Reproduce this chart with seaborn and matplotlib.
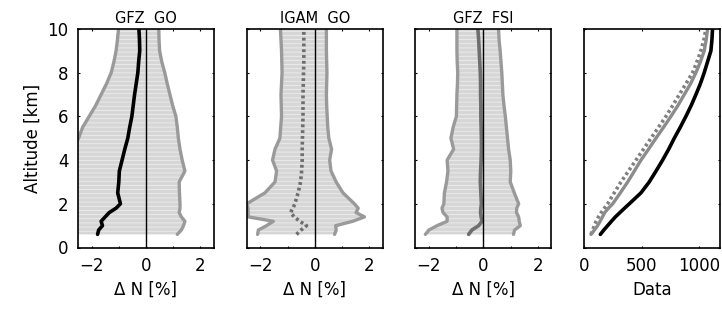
import numpy as np
import pandas as pd
import seaborn as sns
import matplotlib.pyplot as plt

# altitude levels [km]
alt = [0.6, 0.8, 1.0, 1.2, 1.4, 1.6, 1.8, 2.0, 2.5, 3.0, 3.5, 4.0,
       4.5, 5.0, 5.5, 6.0, 6.5, 7.0, 7.5, 8.0, 8.5, 9.0, 9.5, 10.0]

# GFZ GO
gfz_go_mean = [-1.78, -1.74, -1.60, -1.65, -1.50, -1.35, -1.10, -0.94, -1.04, -1.00, -0.98, -0.88,
               -0.78, -0.67, -0.60, -0.52, -0.47, -0.42, -0.36, -0.30, -0.27, -0.23, -0.24, -0.26]
gfz_go_lo = [-2.7, -2.7, -2.7, -2.7, -2.7, -2.7, -2.7, -2.7, -2.7, -2.7, -2.7, -2.7,
             -2.7, -2.48, -2.33, -2.09, -1.85, -1.65, -1.45, -1.28, -1.18, -1.10, -1.05, -1.01]
gfz_go_hi = [1.15, 1.30, 1.38, 1.43, 1.30, 1.22, 1.25, 1.25, 1.23, 1.22, 1.43, 1.33,
             1.25, 1.19, 1.15, 1.10, 0.98, 0.88, 0.78, 0.69, 0.58, 0.50, 0.48, 0.47]

# IGAM GO
igam_go_mean = [-0.67, -0.50, -0.30, -0.55, -0.75, -0.89, -0.80, -0.73, -0.61, -0.52, -0.48, -0.46,
                -0.46, -0.45, -0.44, -0.43, -0.43, -0.43, -0.42, -0.41, -0.40, -0.40, -0.40, -0.40]
igam_go_lo = [-2.10, -2.07, -1.77, -1.52, -2.44, -2.45, -2.45, -2.50, -1.83, -1.46, -1.40, -1.55,
              -1.46, -1.28, -1.25, -1.22, -1.23, -1.24, -1.22, -1.20, -1.21, -1.22, -1.24, -1.26]
igam_go_hi = [0.73, 0.79, 0.77, 1.40, 1.83, 1.52, 1.60, 1.46, 1.04, 0.79, 0.60, 0.55,
              0.62, 0.52, 0.48, 0.46, 0.44, 0.43, 0.44, 0.45, 0.44, 0.43, 0.43, 0.43]

# GFZ FSI
gfz_fsi_mean = [-0.54, -0.42, -0.17, -0.05, -0.08, -0.10, -0.09, -0.07, -0.09, -0.11, -0.10, -0.08,
                -0.07, -0.07, -0.08, -0.09, -0.09, -0.10, -0.10, -0.11, -0.13, -0.15, -0.17, -0.20]
gfz_fsi_lo = [-2.13, -2.00, -1.70, -1.33, -1.33, -1.48, -1.52, -1.45, -1.43, -1.35, -1.30, -1.33,
              -1.09, -1.19, -1.11, -0.99, -0.98, -0.97, -0.95, -0.94, -0.96, -0.97, -0.97, -0.97]
gfz_fsi_hi = [1.11, 1.15, 1.36, 1.32, 1.30, 1.22, 1.23, 1.30, 1.14, 0.99, 1.01, 0.99,
              0.93, 0.89, 0.85, 0.81, 0.76, 0.72, 0.70, 0.68, 0.65, 0.62, 0.58, 0.56]

# number of data
data_gfz_go = [142, 172, 205, 238, 272, 312, 352, 393, 494, 566, 625, 682,
               735, 783, 835, 884, 930, 971, 1010, 1043, 1072, 1101, 1110, 1115]
data_gfz_fsi = [61, 90, 118, 140, 160, 180, 212, 249, 315, 379, 437, 494,
                560, 624, 690, 754, 815, 870, 925, 971, 1010, 1043, 1060, 1072]
data_igam_go = [61, 75, 90, 105, 125, 150, 177, 205, 262, 321, 386, 451,
                516, 581, 646, 711, 770, 827, 885, 942, 980, 1014, 1040, 1058]

titles = ["GFZ  GO", "IGAM  GO", "GFZ  FSI"]

sns.set_style("ticks")
plt.rcParams['font.family'] = ['DejaVu Sans']
plt.rcParams['hatch.linewidth'] = 0.5
plt.rcParams['text.color'] = 'black'
plt.rcParams['axes.labelcolor'] = 'black'
plt.rcParams['xtick.color'] = 'black'
plt.rcParams['ytick.color'] = 'black'

fig = plt.figure(figsize=(7.22, 3.09), dpi=100)
W, H = 722, 309
lefts = [78, 246.7, 415.3, 584]
axes = [fig.add_axes([l / W, (H - 247.5) / H, 136 / W, 218.5 / H]) for l in lefts]

bound_col = "#9a9a9a"
fill_col = "#d6d6d6"
dots = (0, (0.8, 0.8))
panels = [
    (gfz_go_mean, gfz_go_lo, gfz_go_hi, "black", "-"),
    (igam_go_mean, igam_go_lo, igam_go_hi, "#6e6e6e", ":"),
    (gfz_fsi_mean, gfz_fsi_lo, gfz_fsi_hi, "#6e6e6e", "-"),
]

for ax, (mean, lo, hi, col, ls), title in zip(axes[:3], panels, titles):
    ax.fill_betweenx(alt, lo, hi, facecolor=fill_col, edgecolor="#f2f2f2",
                     hatch="----", linewidth=0)
    sns.lineplot(x=lo, y=alt, orient="y", ax=ax, color=bound_col, lw=2.4)
    sns.lineplot(x=hi, y=alt, orient="y", ax=ax, color=bound_col, lw=2.4)
    sns.lineplot(x=mean, y=alt, orient="y", ax=ax, color=col, lw=2.6)
    if ls == ":":
        ax.lines[-1].set_linestyle(dots)
    ax.axvline(0, color="black", lw=1.0)
    ax.set_xlim(-2.5, 2.5)
    ax.set_xticks([-2, 0, 2])
    ax.set_xticks([-1, 1], minor=True)
    ax.set_xlabel("Δ N [%]", fontsize=12)
    ax.set_title(title, fontsize=10.5, pad=4)

ax = axes[3]
sns.lineplot(x=data_igam_go, y=alt, orient="y", ax=ax, color="#808080", lw=2.6)
ax.lines[-1].set_linestyle(dots)
sns.lineplot(x=data_gfz_fsi, y=alt, orient="y", ax=ax, color="#8c8c8c", lw=2.4)
sns.lineplot(x=data_gfz_go, y=alt, orient="y", ax=ax, color="black", lw=2.6)
ax.set_xlim(0, 1180)
ax.set_xticks([0, 500, 1000])
ax.set_xlabel("Data", fontsize=12)

for i, ax in enumerate(axes):
    ax.set_ylim(0, 10)
    ax.set_yticks([0, 2, 4, 6, 8, 10])
    ax.tick_params(which="both", direction="in", length=1.5, width=0.8,
                   top=True, right=True, labelsize=12, pad=7)
    for s in ax.spines.values():
        s.set_linewidth(1.2)
        s.set_color("black")
    if i == 0:
        ax.set_ylabel("Altitude [km]", fontsize=12)
    else:
        ax.set_ylabel("")
        ax.set_yticklabels([])

fig.savefig("out.png", dpi=100)
plt.close(fig)
